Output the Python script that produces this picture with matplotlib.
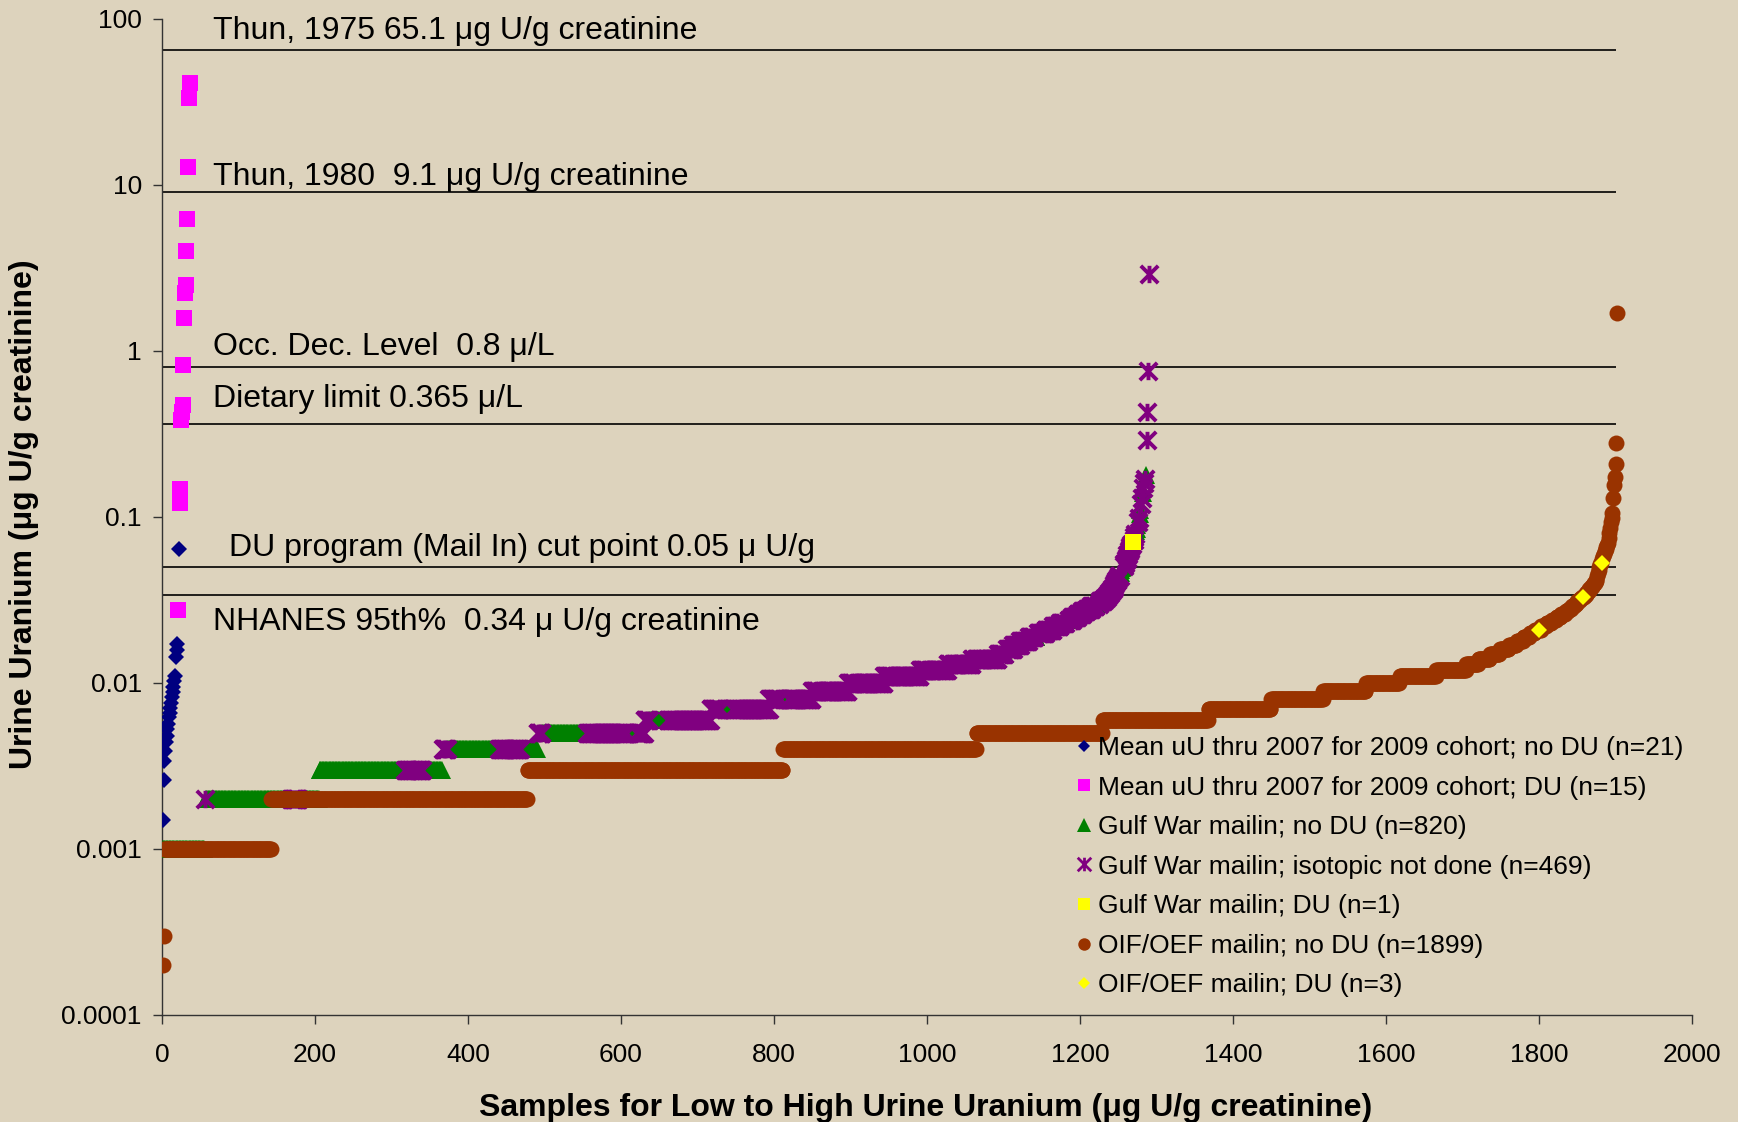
import numpy as np
import matplotlib
matplotlib.use('Agg')
import matplotlib.pyplot as plt
from matplotlib.path import Path
from matplotlib.lines import Line2D
from matplotlib.ticker import NullLocator

plt.rcParams['font.family'] = ['Liberation Sans', 'DejaVu Sans']

# ---------------- data ----------------
# 2009 cohort (mean uU thru 2007)
cohort_noDU = [0.0015, 0.0026, 0.0034, 0.0039, 0.0044, 0.0048, 0.0053, 0.0057,
               0.0062, 0.0066, 0.0071, 0.0076, 0.0082, 0.0088, 0.0095, 0.0103,
               0.0110, 0.0143, 0.0158, 0.0172, 0.064]
cohort_DU = [0.0277, 0.122, 0.148, 0.386, 0.43, 0.47, 0.82, 1.58, 2.24, 2.5,
             4.0, 6.2, 12.9, 33.2, 41.2]

# Gulf War mail-in, sorted values (level, count)
gw_levels = [0.001, 0.002, 0.003, 0.004, 0.005, 0.006, 0.007, 0.008, 0.009, 0.010,
             0.011, 0.012, 0.013, 0.014, 0.015, 0.016, 0.017, 0.018, 0.019, 0.020,
             0.021, 0.022, 0.023, 0.024, 0.025, 0.026, 0.027, 0.028, 0.029, 0.030,
             0.031, 0.032, 0.033, 0.034, 0.035, 0.036, 0.037, 0.038, 0.039, 0.040,
             0.041, 0.042, 0.043, 0.044,
             0.046, 0.048, 0.049, 0.050, 0.051, 0.052, 0.053, 0.055, 0.057, 0.059,
             0.060, 0.062, 0.064, 0.066, 0.068, 0.069, 0.071, 0.073, 0.076, 0.079,
             0.082, 0.085, 0.089, 0.093, 0.098, 0.104, 0.110, 0.120, 0.130, 0.140,
             0.150, 0.160, 0.170, 0.180, 0.29, 0.43, 0.76, 2.9]
gw_counts = [55, 150, 161, 124, 140, 86, 77, 56, 47, 47,
             47, 36, 32, 34, 10, 10, 9, 11, 11, 11,
             10, 9, 8, 8, 7, 6, 6, 6, 6, 5,
             5, 3, 2, 2, 2, 2, 2, 1, 1, 1,
             1, 2, 1, 2,
             1, 1, 1, 1, 1, 1, 1, 1, 1, 1,
             1, 1, 1, 1, 1, 1, 1, 1, 1, 1,
             1, 1, 1, 1, 1, 1, 1, 1, 1, 1,
             1, 1, 1, 1, 1, 1, 1, 1]
# which series each ranked sample belongs to (G: no DU, P: isotopic not done, Y: DU)
gw_run_codes = ['G', 'P', 'G', 'P', 'G', 'P', 'G', 'P', 'G', 'P', 'G', 'P', 'G', 'P',
                'G', 'P', 'G', 'P', 'G', 'P', 'G', 'P', 'G', 'P', 'G', 'P', 'G', 'P',
                'G', 'P', 'G', 'P', 'G', 'P', 'G', 'P', 'G', 'P', 'G', 'P', 'G', 'P',
                'G', 'P', 'Y', 'P', 'G', 'P', 'G', 'P', 'G', 'P', 'G', 'P']
gw_run_lengths = [55, 1, 112, 10, 139, 23, 26, 6, 68, 28, 22, 6, 59, 52,
                  13, 16, 24, 70, 15, 63, 10, 40, 4, 43, 4, 46, 3, 42,
                  3, 27, 3, 27, 3, 37, 4, 36, 4, 36, 4, 36, 4, 28,
                  4, 12, 1, 3, 3, 2, 2, 2, 1, 3, 1, 4]

# OIF/OEF mail-in, sorted values (level, count)
oif_levels = [0.0002, 0.0003, 0.001, 0.002, 0.003, 0.004, 0.005, 0.006, 0.007, 0.008,
              0.009, 0.010, 0.011, 0.012, 0.013, 0.014, 0.015, 0.016, 0.017, 0.018,
              0.019, 0.020, 0.021, 0.022, 0.023, 0.024, 0.025, 0.026, 0.027, 0.028,
              0.029, 0.030, 0.031, 0.032, 0.033, 0.034, 0.035, 0.036, 0.037, 0.038,
              0.039, 0.040, 0.041, 0.042, 0.044, 0.046, 0.048, 0.050, 0.052, 0.053,
              0.056, 0.058, 0.060, 0.062, 0.064, 0.066, 0.068, 0.070, 0.075, 0.080,
              0.086, 0.093, 0.098, 0.105, 0.13, 0.155, 0.175, 0.21, 0.28, 1.7]
oif_counts = [1, 1, 140, 335, 334, 253, 165, 138, 82, 68,
              56, 44, 48, 39, 16, 15, 13, 12, 10, 9,
              8, 7, 8, 7, 7, 6, 6, 6, 4, 4,
              4, 3, 3, 3, 4, 2, 2, 2, 2, 2,
              2, 2, 1, 1, 1, 1, 1, 1, 1, 2,
              1, 1, 1, 1, 1, 1, 1, 1, 1, 1,
              1, 1, 1, 1, 1, 1, 1, 1, 1, 1]
oif_run_codes = ['B', 'Y', 'B', 'Y', 'B', 'Y', 'B']
oif_run_lengths = [1799, 1, 56, 1, 24, 1, 20]

ref_values = [65.1, 9.1, 0.8, 0.365, 0.05, 0.034]
ref_texts = ['Thun, 1975 65.1 \u03bcg U/g creatinine',
             'Thun, 1980  9.1 \u03bcg U/g creatinine',
             'Occ. Dec. Level  0.8 \u03bc/L',
             'Dietary limit 0.365 \u03bc/L',
             'DU program (Mail In) cut point 0.05 \u03bc U/g',
             'NHANES 95th%  0.34 \u03bc U/g creatinine']
ref_text_x = [67, 67, 67, 67, 87, 67]
ref_text_y = [85.0, 11.2, 1.05, 0.515, 0.065, 0.0233]

legend_labels = ['Mean uU thru 2007 for 2009 cohort; no DU (n=21)',
                 'Mean uU thru 2007 for 2009 cohort; DU (n=15)',
                 'Gulf War mailin; no DU (n=820)',
                 'Gulf War mailin; isotopic not done (n=469)',
                 'Gulf War mailin; DU (n=1)',
                 'OIF/OEF mailin; no DU (n=1899)',
                 'OIF/OEF mailin; DU (n=3)']

x_ticks = [0, 200, 400, 600, 800, 1000, 1200, 1400, 1600, 1800, 2000]
y_ticks = [0.0001, 0.001, 0.01, 0.1, 1, 10, 100]
y_ticklabels = ['0.0001', '0.001', '0.01', '0.1', '1', '10', '100']

# ---------------- build ranked samples ----------------
coh_vals = np.array(cohort_noDU + cohort_DU)
coh_is_du = np.array([False] * len(cohort_noDU) + [True] * len(cohort_DU))
order = np.argsort(coh_vals, kind='stable')
coh_rank = np.empty(len(coh_vals))
coh_rank[order] = np.arange(1, len(coh_vals) + 1)

gw_vals = np.repeat(gw_levels, gw_counts)
gw_codes = np.repeat(gw_run_codes, gw_run_lengths)
n = min(len(gw_vals), len(gw_codes))
gw_vals, gw_codes = gw_vals[:n], gw_codes[:n]
gw_x = np.arange(1, n + 1)

oif_vals = np.repeat(oif_levels, oif_counts)
oif_codes = np.repeat(oif_run_codes, oif_run_lengths)
m = min(len(oif_vals), len(oif_codes))
oif_vals, oif_codes = oif_vals[:m], oif_codes[:m]
oif_x = np.arange(1, m + 1)

# ---------------- figure ----------------
BG = '#DDD3BD'
fig = plt.figure(figsize=(17.38, 11.22), dpi=100, facecolor=BG)
ax = fig.add_axes([162 / 1738, 107 / 1122, 1530 / 1738, 996 / 1122])
ax.set_facecolor(BG)

star = Path([(0, -1), (0, 1), (-1, -1), (1, 1), (-1, 1), (1, -1)],
            [Path.MOVETO, Path.LINETO, Path.MOVETO, Path.LINETO, Path.MOVETO, Path.LINETO])

ax.hlines(ref_values, 0, 1900, colors='black', linewidth=1.2, zorder=1)

st_blue = dict(marker='D', ms=8.4, color='#000080', mew=0, ls='none')
st_mag = dict(marker='s', ms=11, color='#FF00FF', mew=0, ls='none')
st_green = dict(marker='^', ms=13, color='#008000', mew=0, ls='none')
st_purple = dict(marker=star, ms=12.5, mec='#800080', mfc='none', mew=2.8, ls='none')
st_ysq = dict(marker='s', ms=11.5, color='#FFFF00', mew=0, ls='none')
st_brown = dict(marker='o', ms=11.5, color='#993300', mew=0, ls='none')
st_ydia = dict(marker='D', ms=8.0, color='#FFFF00', mew=0, ls='none')

ax.plot(coh_rank[~coh_is_du], coh_vals[~coh_is_du], zorder=3, **st_blue)
ax.plot(coh_rank[coh_is_du], coh_vals[coh_is_du], zorder=3, **st_mag)
sel = gw_codes == 'G'
ax.plot(gw_x[sel], gw_vals[sel], zorder=3, **st_green)
sel = gw_codes == 'P'
ax.plot(gw_x[sel], gw_vals[sel], zorder=4, **st_purple)
sel = gw_codes == 'Y'
ax.plot(gw_x[sel], gw_vals[sel], zorder=5, **st_ysq)
sel = oif_codes == 'B'
ax.plot(oif_x[sel], oif_vals[sel], zorder=5, **st_brown)
sel = oif_codes == 'Y'
ax.plot(oif_x[sel], oif_vals[sel], zorder=6, **st_ydia)

for tx, ty, t in zip(ref_text_x, ref_text_y, ref_texts):
    ax.text(tx, ty, t, fontsize=23, ha='left', va='center', color='black', zorder=7)

ax.set_yscale('log')
ax.set_xlim(0, 2000)
ax.set_ylim(1e-4, 100)
ax.set_yticks(y_ticks)
ax.set_yticklabels(y_ticklabels)
ax.yaxis.set_minor_locator(NullLocator())
ax.set_xticks(x_ticks)
ax.set_xticklabels([str(v) for v in x_ticks])
ax.tick_params(axis='both', direction='out', length=6.5, width=1, color='#333333',
               labelsize=19, labelcolor='black')
ax.tick_params(axis='y', pad=8)
ax.tick_params(axis='x', pad=13.5)
for s in ['top', 'right']:
    ax.spines[s].set_visible(False)
for s in ['left', 'bottom']:
    ax.spines[s].set_color('#333333')
    ax.spines[s].set_linewidth(1)

fig.text(24 / 1738, 1 - 514 / 1122, 'Urine Uranium (\u03bcg U/g creatinine)', rotation=90,
         ha='center', va='center', fontsize=23, fontweight='bold')
fig.text(926 / 1738, 1 - 1108 / 1122,
         'Samples for Low to High Urine Uranium (\u03bcg U/g creatinine)',
         ha='center', va='center', fontsize=23, fontweight='bold')

sc = 0.78
handles = [Line2D([], [], **{**st_blue, 'ms': 8.4 * sc}),
           Line2D([], [], **{**st_mag, 'ms': 11 * sc}),
           Line2D([], [], **{**st_green, 'ms': 13 * sc}),
           Line2D([], [], **{**st_purple, 'ms': 12.5 * sc, 'mew': 2.0}),
           Line2D([], [], **{**st_ysq, 'ms': 11.5 * sc}),
           Line2D([], [], **{**st_brown, 'ms': 11.5 * sc}),
           Line2D([], [], **{**st_ydia, 'ms': 8.0 * sc})]
leg = ax.legend(handles, legend_labels, loc='upper left',
                bbox_to_anchor=(1076 / 1738, 1 - 736 / 1122), bbox_transform=fig.transFigure,
                frameon=False, fontsize=19, handlelength=0.6, handletextpad=0.25,
                labelspacing=0.59, borderpad=0, borderaxespad=0)
leg.set_zorder(8)

fig.savefig('out.png', dpi=100, facecolor=BG)
